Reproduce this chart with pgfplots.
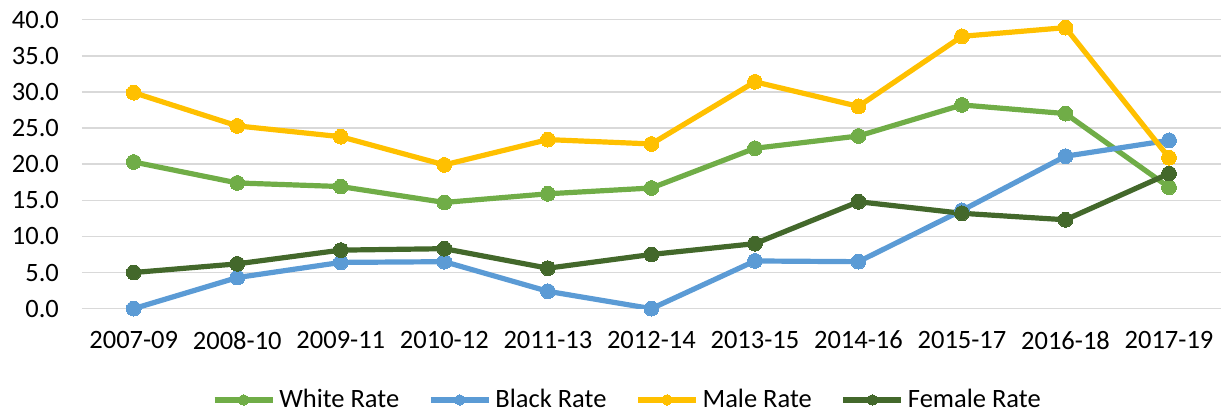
\documentclass[border=0pt]{standalone}
\usepackage{pgfplots}
\pgfplotsset{compat=1.18}
\usepackage{fontspec}
\setmainfont{Carlito}
\definecolor{cWhite}{HTML}{70AD47}
\definecolor{cBlack}{HTML}{5B9BD5}
\definecolor{cMale}{HTML}{FFC000}
\definecolor{cFemale}{HTML}{43682B}
\definecolor{cGrid}{HTML}{D9D9D9}
\begin{document}
\begin{tikzpicture}
\begin{axis}[
  at={(0,0)}, anchor=south west,
  scale only axis, width=569.5pt, height=144.5pt,
  xmin=-0.5, xmax=10.5, ymin=0, ymax=40,
  axis line style={draw=none},
  major tick length=0pt,
  xtick={0,...,10},
  xticklabels={2007-09,2008-10,2009-11,2010-12,2011-13,2012-14,2013-15,2014-16,2015-17,2016-18,2017-19},
  ytick={0,5,...,40},
  ymajorgrids, grid style={cGrid, line width=0.75pt},
  /pgf/number format/.cd, fixed, fixed zerofill, precision=1, assume math mode=true,
  /pgfplots/.cd,
  every tick label/.append style={font=\fontsize{13.25pt}{15pt}\selectfont, black},
  yticklabel style={xshift=-8pt},
  xticklabel style={yshift=-7.6pt},
  legend columns=4,
  legend style={draw=none, fill=none, at={(0.4798,-0.316)}, anchor=center,
    font=\fontsize{13.25pt}{15pt}\selectfont,
    /tikz/every even column/.append style={column sep=12.5pt}},
  legend image code/.code={\draw[mark repeat=2, mark phase=2, #1, mark size=2.6pt] plot coordinates {(0pt,0pt) (14.5pt,0pt) (29pt,0pt)};},
  every axis plot/.append style={line width=2.6pt, mark=*, mark size=3.7pt},
]
\addplot[color=cWhite, mark options={fill=cWhite, draw=cWhite, line width=0pt}] coordinates {
(0,20.3) (1,17.4) (2,16.9) (3,14.7) (4,15.9) (5,16.7) (6,22.2) (7,23.9) (8,28.2) (9,27.0) (10,16.8)};
\addlegendentry{White Rate}
\addplot[color=cBlack, mark options={fill=cBlack, draw=cBlack, line width=0pt}] coordinates {
(0,0.0) (1,4.3) (2,6.4) (3,6.5) (4,2.4) (5,0.0) (6,6.6) (7,6.5) (8,13.6) (9,21.1) (10,23.3)};
\addlegendentry{Black Rate}
\addplot[color=cMale, mark options={fill=cMale, draw=cMale, line width=0pt}] coordinates {
(0,29.9) (1,25.3) (2,23.8) (3,19.9) (4,23.4) (5,22.8) (6,31.4) (7,28.0) (8,37.7) (9,38.9) (10,20.9)};
\addlegendentry{Male Rate}
\addplot[color=cFemale, mark options={fill=cFemale, draw=cFemale, line width=0pt}] coordinates {
(0,5.0) (1,6.2) (2,8.1) (3,8.3) (4,5.6) (5,7.5) (6,9.0) (7,14.8) (8,13.2) (9,12.3) (10,18.7)};
\addlegendentry{Female Rate}
\end{axis}
\pgfresetboundingbox
\path[use as bounding box] (-41pt,-53.15pt) rectangle (570.1pt,154.35pt);
\end{tikzpicture}
\end{document}
